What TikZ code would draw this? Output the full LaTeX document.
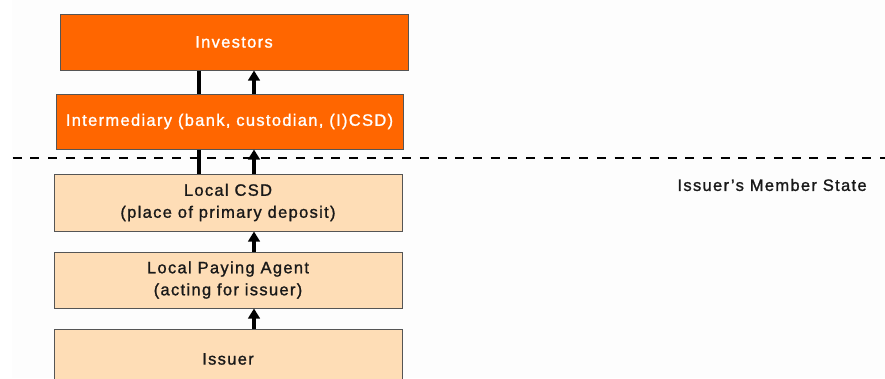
\documentclass[tikz,border=0pt]{standalone}
\usepackage{fontspec}
\setmainfont{Liberation Sans}[LetterSpace=8,FakeBold=1.2]
\usetikzlibrary{arrows.meta}
\definecolor{orangebox}{RGB}{255,102,0}
\definecolor{peach}{RGB}{254,221,182}
\definecolor{boxline}{RGB}{85,85,85}
\definecolor{bg}{RGB}{253,253,253}
\begin{document}
\begin{tikzpicture}[x=1pt,y=-1pt,
  box/.style={draw=boxline,line width=1pt,minimum width=348pt,inner sep=0pt,align=center,font=\fontsize{16.5}{22}\selectfont},
  darkbox/.style={box,fill=orangebox,text=white},
  lightbox/.style={box,fill=peach,text=black!90},
  plainline/.style={line width=3.2pt,black},
  uparrow/.style={line width=3.2pt,black,-{Triangle[width=11.5pt,length=10pt]}},
  divider/.style={line width=2.5pt,black,dash pattern=on 9pt off 8.7pt}]
\useasboundingbox (0,0) rectangle (885,378);
\fill[white] (0,0) rectangle (885,378);
\fill[bg] (12,0) rectangle (885,378);
\node[darkbox,minimum width=348pt,minimum height=56pt] (inv) at (234,42) {Investors};
\node[darkbox,minimum width=347pt,minimum height=55pt] (int) at (229.5,121.5) {Intermediary (bank, custodian, (I)CSD)};
\node[lightbox,minimum height=57pt] (csd) at (228,202.5) {Local CSD\\(place of primary deposit)};
\node[lightbox,minimum height=56pt] (lpa) at (228,280) {Local Paying Agent\\(acting for issuer)};
\node[lightbox,minimum height=60pt] (iss) at (228,359) {Issuer};
\coordinate (xl) at (199,0);
\coordinate (xr) at (254,0);
\coordinate (dl) at (12.7,158);
\coordinate (dr) at (890,158);
\draw[divider] (dl) -- (dr);
\node[anchor=west,font=\fontsize{16.5}{22}\selectfont,text=black!90] (ms) at (674,185) {Issuer’s Member State};
\draw[plainline] (inv.south -| xl) -- (int.north -| xl);
\draw[uparrow] (int.north -| xr) -- (inv.south -| xr);
\draw[plainline] (int.south -| xl) -- (csd.north -| xl);
\draw[uparrow] (csd.north -| xr) -- (int.south -| xr);
\draw[uparrow] (lpa.north -| xr) -- (csd.south -| xr);
\draw[uparrow] (iss.north -| xr) -- (lpa.south -| xr);
\end{tikzpicture}
\end{document}
